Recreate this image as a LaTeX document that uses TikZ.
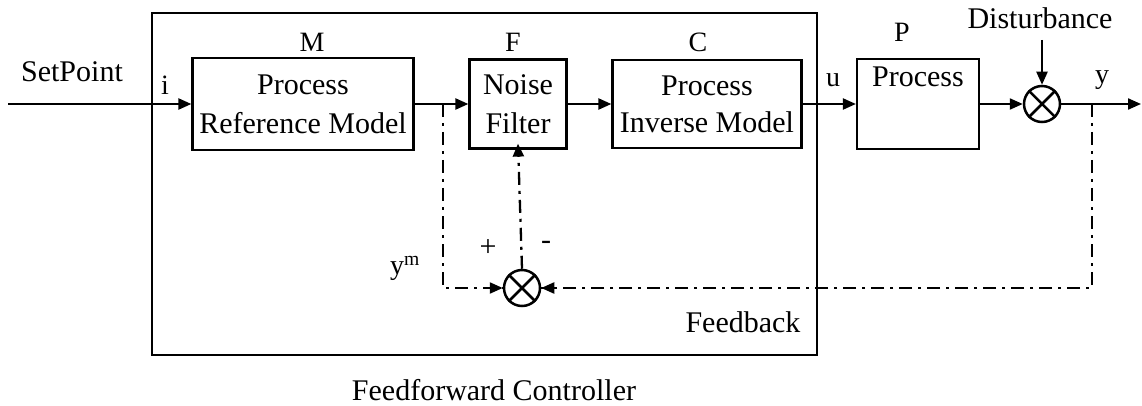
\documentclass[tikz,border=0pt]{standalone}
\usepackage{fontspec}
\setmainfont{Liberation Serif}
\usetikzlibrary{arrows.meta}
\tikzset{
  every node/.style={font=\fontsize{30}{36}\selectfont},
  blk/.style={draw, line width=2.2pt, align=center, inner sep=0pt, minimum height=90pt},
  tag/.style={font=\fontsize{28}{32}\selectfont},
  sign/.style={font=\fontsize{30}{32}\selectfont},
  arr/.style={line width=2.2pt, -{Triangle[length=13pt,width=11pt]}},
  fb/.style={line width=2.3pt, dash pattern=on 13pt off 6pt on 3pt off 6pt},
  sumj/.style={draw, circle, line width=2.5pt, minimum size=36pt, inner sep=0pt},
}
\newcommand{\crossin}[1]{%
  \draw[line width=2.5pt] (#1.45) -- (#1.225) (#1.135) -- (#1.315);}
\begin{document}
\begin{tikzpicture}[x=1pt,y=-1pt]
\useasboundingbox (0,0) rectangle (1142,406);

% controller frame
\draw[line width=2.3pt] (152,13) rectangle (817,355);

% blocks
\node[blk, minimum width=221pt, minimum height=92pt] (M) at (303,104) {Process\\[3pt]Reference Model};
\node[blk, minimum width=97pt, minimum height=89pt] (F) at (518,104) {Noise\\[3pt]Filter};
\node[blk, minimum width=189pt, minimum height=88pt] (C) at (707,104) {Process\\[1pt]Inverse Model};
\node[blk, minimum width=122pt, minimum height=0pt, inner ysep=7pt,
      text height=21pt, text depth=55pt] (P) at (918,104) {Process};

% block labels
\node[tag] (lM) at (312,42) {M};
\node[tag] (lF) at (513,42) {F};
\node[tag] (lC) at (698,42) {C};
\node[tag] (lP) at (902,32) {P};

% summing junctions
\node[sumj] (sT) at (1042,104) {};
\crossin{sT}
\node[sumj] (sB) at (522,288) {};
\crossin{sB}

% signal labels
\node (sp) at (72,72) {SetPoint};
\node[tag] (li) at (165,85) {i};
\node[tag] (lu) at (833,80) {u};
\node[tag] (ly) at (1102,80) {y};
\node (dist) at (1040,18) {Disturbance};
\node[tag] (lym) at (405,268) {y\textsuperscript{m}};
\node[sign] (lp) at (488,248) {+};
\node[sign] (lm) at (546,245) {-};
\node (lfb) at (743,322) {Feedback};
\node (lff) at (494,390) {Feedforward Controller};

% forward path
\coordinate (in) at (8,104);
\coordinate (out) at (1141,104);
\coordinate (dtop) at (1042,40);
\coordinate (tap) at (443,104);
\coordinate (ytap) at (1092,104);
\draw[arr] (in) -- (M.west);
\draw[arr] (M.east) -- (F.west);
\draw[arr] (F.east) -- (C.west);
\draw[arr] (C.east) -- (P.west);
\draw[arr] (P.east) -- (sT.west);
\draw[arr] (dtop) -- (sT.north);
\draw[arr] (sT.east) -- (out);

% feedback path
\draw[fb] (tap) |- (sB.west);
\draw[arr] ([xshift=-14pt]sB.west) -- (sB.west);
\draw[fb] (ytap) |- (sB.east);
\draw[arr] ([xshift=14pt]sB.east) -- (sB.east);
\draw[fb, -{Triangle[length=13pt,width=11pt]}] (sB.north) -- ([yshift=6pt]F.south);
\end{tikzpicture}
\end{document}
